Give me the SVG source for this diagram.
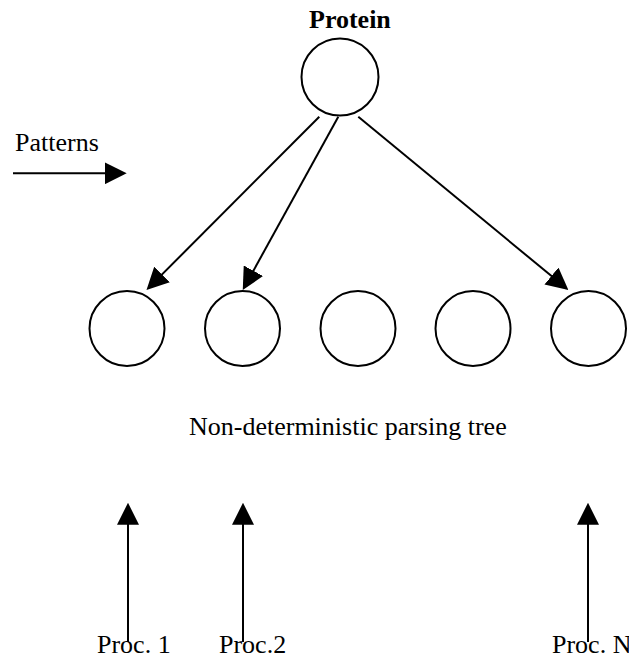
<svg xmlns="http://www.w3.org/2000/svg" width="629" height="660" viewBox="0 0 629 660">
<style>
.node{fill:#fff;stroke:#000;stroke-width:2}
.edge{fill:none;stroke:#000;stroke-width:2}
.lbl{font-family:"Liberation Serif","Times New Roman",serif;font-size:26px;fill:#000}
.bold{font-weight:bold}
</style>
<defs>
<marker id="ah" markerUnits="userSpaceOnUse" markerWidth="22" markerHeight="22" refX="19" refY="11" orient="auto">
<path d="M0,0 L22,11 L0,22 z" fill="#000"/>
</marker>
</defs>
<rect width="629" height="660" fill="#fff"/>
<g id="protein">
<circle class="node" cx="340" cy="77" r="38.5"/>
<text class="lbl bold" x="309" y="28">Protein</text>
</g>
<g id="n1"><circle class="node" cx="127" cy="328.5" r="37.5"/></g>
<g id="n2"><circle class="node" cx="242.5" cy="328.5" r="37.5"/></g>
<g id="n3"><circle class="node" cx="358" cy="328.5" r="37.5"/></g>
<g id="n4"><circle class="node" cx="473" cy="328.5" r="37.5"/></g>
<g id="n5"><circle class="node" cx="588.5" cy="328.5" r="37.5"/></g>
<g id="patterns"><text class="lbl" x="15" y="151">Patterns</text></g>
<g id="tree-label"><text class="lbl" x="189" y="435">Non-deterministic parsing tree</text></g>
<g id="proc1"><text class="lbl" x="97" y="653">Proc. 1</text></g>
<g id="proc2"><text class="lbl" x="219" y="653">Proc.2</text></g>
<g id="procN"><text class="lbl" x="552" y="653">Proc. N</text></g>
<g id="connectors">
<line class="edge" x1="319.3" y1="116.7" x2="148.6" y2="287.9" marker-end="url(#ah)"/>
<line class="edge" x1="338.3" y1="116.7" x2="244.2" y2="287.4" marker-end="url(#ah)"/>
<line class="edge" x1="358.3" y1="116.7" x2="566.1" y2="288.1" marker-end="url(#ah)"/>
<line class="edge" x1="13" y1="173.3" x2="123.7" y2="173.3" marker-end="url(#ah)"/>
<line class="edge" x1="128" y1="642" x2="128" y2="505.7" marker-end="url(#ah)"/>
<line class="edge" x1="243" y1="642" x2="243" y2="505.7" marker-end="url(#ah)"/>
<line class="edge" x1="588" y1="642" x2="588" y2="505.7" marker-end="url(#ah)"/>
</g>
</svg>
